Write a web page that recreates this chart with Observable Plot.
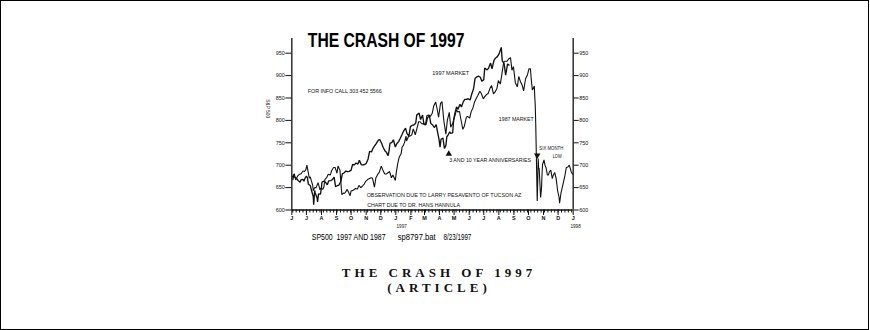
<!DOCTYPE html>
<html><head><meta charset="utf-8">
<script src="https://cdn.jsdelivr.net/npm/d3@7"></script>
<script src="https://cdn.jsdelivr.net/npm/@observablehq/plot@0.6"></script>
<style>
html,body{margin:0;padding:0;background:#fff;}
#page{position:relative;width:869px;height:330px;box-sizing:border-box;border:1px solid #000;overflow:hidden;}
#chart{position:absolute;left:-1px;top:-1px;}
#caption{position:absolute;left:-2px;top:264px;width:872px;padding-left:4px;text-align:center;font-family:"Liberation Serif","Times New Roman",serif;font-weight:bold;font-size:13px;line-height:15px;letter-spacing:4px;color:#111;}
</style></head><body>
<div id="page"><div id="chart"></div><div id="caption">THE CRASH OF 1997<br>(ARTICLE)</div></div>
<script>
// ---- data: S&P 500, 1996-97 ("1997 market") ----
const market1997 = [
["1996-06-03",667.7],["1996-06-05",677.6],["1996-06-07",673.3],["1996-06-11",670.0],["1996-06-14",665.9],
["1996-06-18",662.1],["1996-06-20",667.6],["1996-06-24",668.5],["1996-06-26",664.4],["1996-06-28",670.6],
["1996-07-01",675.9],["1996-07-03",672.4],["1996-07-05",657.4],["1996-07-09",654.8],["1996-07-11",645.7],
["1996-07-15",629.8],["1996-07-16",612.0],["1996-07-18",643.5],["1996-07-19",638.7],["1996-07-23",626.9],
["1996-07-24",618.0],["1996-07-26",635.9],["1996-07-30",635.3],["1996-08-01",650.0],["1996-08-02",662.5],
["1996-08-06",664.2],["1996-08-09",662.1],["1996-08-13",656.4],["1996-08-16",665.2],["1996-08-20",665.7],
["1996-08-23",667.0],["1996-08-27",673.3],["1996-08-30",652.0],["1996-09-03",654.7],["1996-09-06",655.7],
["1996-09-10",663.8],["1996-09-13",680.5],["1996-09-17",683.2],["1996-09-20",687.0],["1996-09-24",685.6],
["1996-09-27",686.2],["1996-10-01",689.1],["1996-10-04",701.5],["1996-10-08",700.6],["1996-10-11",705.0],
["1996-10-15",702.6],["1996-10-18",710.8],["1996-10-22",700.9],["1996-10-25",700.9],["1996-10-29",701.5],
["1996-11-01",703.8],["1996-11-05",714.1],["1996-11-08",730.8],["1996-11-12",729.6],["1996-11-15",737.6],
["1996-11-19",744.0],["1996-11-22",748.7],["1996-11-26",756.0],["1996-11-29",757.0],["1996-12-03",748.3],
["1996-12-06",739.6],["1996-12-10",731.5],["1996-12-13",728.6],["1996-12-16",721.0],["1996-12-18",731.5],
["1996-12-20",748.9],["1996-12-24",751.0],["1996-12-27",756.8],["1996-12-31",740.7],["1997-01-03",748.0],
["1997-01-07",753.2],["1997-01-10",759.5],["1997-01-14",768.9],["1997-01-17",776.2],["1997-01-21",782.7],
["1997-01-24",770.5],["1997-01-28",765.0],["1997-01-31",786.2],["1997-02-04",789.3],["1997-02-07",789.6],
["1997-02-11",794.0],["1997-02-13",811.8],["1997-02-18",816.3],["1997-02-21",801.8],["1997-02-25",812.1],
["1997-02-28",790.8],["1997-03-04",790.9],["1997-03-07",805.0],["1997-03-11",811.3],["1997-03-14",793.2],
["1997-03-18",789.7],["1997-03-21",784.1],["1997-03-25",790.5],["1997-03-31",757.1],["1997-04-02",740.0],
["1997-04-04",757.9],["1997-04-08",760.6],["1997-04-11",737.7],["1997-04-14",743.7],["1997-04-16",763.5],
["1997-04-18",766.3],["1997-04-22",774.6],["1997-04-24",771.2],["1997-04-28",772.0],["1997-04-30",801.3],
["1997-05-02",813.0],["1997-05-06",830.2],["1997-05-09",824.8],["1997-05-13",836.0],["1997-05-16",829.8],
["1997-05-20",841.9],["1997-05-23",847.0],["1997-05-27",847.2],["1997-05-30",848.3],["1997-06-03",845.5],
["1997-06-06",858.0],["1997-06-10",870.6],["1997-06-13",893.3],["1997-06-17",897.3],["1997-06-20",898.7],
["1997-06-24",896.3],["1997-06-27",887.3],["1997-07-01",891.0],["1997-07-03",916.9],["1997-07-08",912.6],
["1997-07-11",916.7],["1997-07-15",928.0],["1997-07-18",915.3],["1997-07-22",934.0],["1997-07-25",938.8],
["1997-07-29",942.3],["1997-08-01",947.1],["1997-08-06",963.0],["1997-08-08",933.5],["1997-08-12",926.5],
["1997-08-15",900.8],["1997-08-19",926.0],["1997-08-22",923.5]
];
// ---- data: S&P 500, 1986-87 rescaled, placed on the 1996-97 calendar ("1987 market") ----
const market1987 = [
["1996-06-02",674],["1996-06-06",681],["1996-06-09",667],["1996-06-13",676],["1996-06-16",679],
["1996-06-20",681],["1996-06-24",687],["1996-06-27",686],["1996-06-30",690],["1996-07-02",700],
["1996-07-07",671],["1996-07-09",674],["1996-07-11",666],["1996-07-14",655],["1996-07-15",643],
["1996-07-18",650],["1996-07-21",650],["1996-07-25",661],["1996-07-29",645],["1996-07-31",649],
["1996-08-04",646],["1996-08-06",652],["1996-08-08",668],["1996-08-12",673],["1996-08-15",680],
["1996-08-19",678],["1996-08-22",688],["1996-08-26",695],["1996-08-29",695],["1996-09-02",682],
["1996-09-04",698],["1996-09-08",689],["1996-09-11",647],["1996-09-12",634],["1996-09-15",638],
["1996-09-17",637],["1996-09-19",639],["1996-09-23",646],["1996-09-26",639],["1996-09-29",632],
["1996-10-01",643],["1996-10-03",643],["1996-10-07",645],["1996-10-10",648],["1996-10-14",647],
["1996-10-17",655],["1996-10-21",650],["1996-10-24",653],["1996-10-28",658],["1996-10-31",664],
["1996-11-04",668],["1996-11-07",670],["1996-11-11",672],["1996-11-14",671],["1996-11-18",651],
["1996-11-21",672],["1996-11-25",680],["1996-11-28",684],["1996-12-02",698],["1996-12-05",690],
["1996-12-09",681],["1996-12-12",680],["1996-12-16",683],["1996-12-19",686],["1996-12-23",672],
["1996-12-26",678],["1996-12-31",666],["1997-01-02",684],["1997-01-05",704],["1997-01-08",718],
["1997-01-12",726],["1997-01-14",741],["1997-01-16",743],["1997-01-19",751],["1997-01-22",765],
["1997-01-23",754],["1997-01-27",764],["1997-01-30",765],["1997-02-03",768],["1997-02-06",781],
["1997-02-10",768],["1997-02-13",780],["1997-02-17",797],["1997-02-20",797],["1997-02-24",792],
["1997-02-27",793],["1997-03-03",790],["1997-03-06",811],["1997-03-10",812],["1997-03-13",809],
["1997-03-17",816],["1997-03-20",832],["1997-03-24",841],["1997-03-27",826],["1997-03-30",807],
["1997-04-03",838],["1997-04-06",842],["1997-04-10",798],["1997-04-14",769],["1997-04-17",800],
["1997-04-21",818],["1997-04-24",785],["1997-04-28",793],["1997-05-01",804],["1997-05-06",824],
["1997-05-08",819],["1997-05-12",820],["1997-05-15",802],["1997-05-19",780],["1997-05-22",787],
["1997-05-26",807],["1997-05-29",809],["1997-06-02",805],["1997-06-05",819],["1997-06-09",829],
["1997-06-12",841],["1997-06-16",850],["1997-06-19",856],["1997-06-23",865],["1997-06-26",860],
["1997-06-30",848],["1997-07-03",853],["1997-07-07",858],["1997-07-10",860],["1997-07-14",872],
["1997-07-17",878],["1997-07-21",859],["1997-07-24",863],["1997-07-28",871],["1997-07-31",889],
["1997-08-04",881],["1997-08-07",901],["1997-08-11",930],["1997-08-14",932],["1997-08-18",932],
["1997-08-21",937],["1997-08-25",940],["1997-08-28",912],["1997-08-31",920],["1997-09-04",884],
["1997-09-08",875],["1997-09-11",898],["1997-09-15",885],["1997-09-18",879],["1997-09-21",866],
["1997-09-25",893],["1997-09-29",902],["1997-10-02",915],["1997-10-05",915],["1997-10-07",889],
["1997-10-09",868],["1997-10-13",877],["1997-10-14",852],["1997-10-15",832],["1997-10-16",789],
["1997-10-19",620],["1997-10-20",661],["1997-10-21",715],["1997-10-22",693],["1997-10-23",693],
["1997-10-26",628],["1997-10-28",651],["1997-10-29",683],["1997-10-30",702],["1997-11-02",712],
["1997-11-04",700],["1997-11-06",695],["1997-11-09",678],["1997-11-11",678],["1997-11-13",685],
["1997-11-16",689],["1997-11-19",670],["1997-11-20",675],["1997-11-24",684],["1997-11-27",670],
["1997-11-30",643],["1997-12-03",628],["1997-12-04",615],["1997-12-07",638],["1997-12-11",657],
["1997-12-15",677],["1997-12-18",695],["1997-12-21",696],["1997-12-24",700],["1997-12-28",685],
["1997-12-31",680]
];
// ---- axes ----
const yTicks = [600, 650, 700, 750, 800, 850, 900, 950];
const xStart = "1996-06-01", xEnd = "1998-01-01";
const monthLetters = ["J","F","M","A","M","J","J","A","S","O","N","D"];
// ---- annotations (anchored in data space) ----
const chartTitle = [{text: "THE CRASH OF 1997", date: "1996-07-04", value: 978}];
const notes = [
  {text: "FOR INFO CALL 303 452 5566", date: "1996-07-04", value: 865},
  {text: "1997 MARKET", date: "1997-03-17", value: 905},
  {text: "1987 MARKET", date: "1997-08-01", value: 803},
  {text: "3 AND 10 YEAR ANNIVERSARIES", date: "1997-04-21", value: 711},
  {text: "OBSERVATION DUE TO LARRY PESAVENTO OF TUCSON AZ", date: "1996-11-02", value: 633},
  {text: "CHART DUE TO DR. HANS HANNULA", date: "1996-11-03", value: 611}
];
const centeredNotes = [
  {text: "SIX MONTH", date: "1997-11-17", value: 738},
  {text: "LOW", date: "1997-11-29", value: 720}
];
const markersUp = [{date: "1997-04-20", value: 725}];
const markersDown = [{date: "1997-10-19", value: 722}];
const footer = [
  {text: "SP500  1997 AND 1987", date: "1996-07-12"},
  {text: "sp8797.bat", date: "1997-01-05"},
  {text: "8/23/1997", date: "1997-04-09"}
];
const yearLabels = [{text: "1997", date: "1997-01-13"}, {text: "1998", date: "1998-01-06"}];
const sideLabel = [{text: "S&P 500", value: 847}];

// ---- build ----
const P = d => new Date(d + "T00:00:00Z");
const s97 = market1997.map(([d, v]) => ({date: P(d), value: v}));
const s87 = market1987.map(([d, v]) => ({date: P(d), value: v}));
const toPts = a => a.map(o => ({...o, date: P(o.date)}));
const months = d3.utcMonth.range(P(xStart), d3.utcDay.offset(P(xEnd), 1));
const weeks = d3.utcMonday.range(P(xStart), P(xEnd));
const ink = "#111";
const sans = "'Liberation Sans', Arial, Helvetica, sans-serif";

const plot = Plot.plot({
  width: 870, height: 255,
  marginLeft: 292, marginRight: 296, marginTop: 38, marginBottom: 45,
  x: {type: "utc", domain: [P(xStart), P(xEnd)]},
  y: {domain: [600, 983]},
  style: {fontFamily: sans, color: ink, background: "transparent", overflow: "visible"},
  marks: [
    Plot.ruleX([P(xStart), P(xEnd)], {stroke: ink, strokeWidth: 1.3}),
    Plot.ruleY([600], {stroke: ink, strokeWidth: 1.3}),
    Plot.axisY(yTicks, {anchor: "left", tickSize: 6, tickPadding: 1, fontSize: 5.5, label: null, stroke: ink}),
    Plot.axisY(yTicks, {anchor: "right", tickSize: 5, tickPadding: 1, fontSize: 5.5, label: null, stroke: ink}),
    Plot.axisX(weeks, {tickSize: 3, tickFormat: () => "", label: null, stroke: ink}),
    Plot.axisX(months, {tickSize: 5.5, tickPadding: 1, fontSize: 5.5, fontWeight: "bold", label: null, stroke: ink,
      tickFormat: d => monthLetters[d.getUTCMonth()]}),
    Plot.line(s87, {x: "date", y: "value", stroke: ink, strokeWidth: 1.1, strokeLinejoin: "miter"}),
    Plot.line(s97, {x: "date", y: "value", stroke: ink, strokeWidth: 1.35, strokeLinejoin: "miter"}),
    Plot.dot(toPts(markersUp), {x: "date", y: "value", symbol: "triangle", r: 2.4, fill: ink, stroke: "none"}),
    Plot.dot(toPts(markersDown), {x: "date", y: "value", symbol: "triangle", rotate: 180, r: 2.4, fill: ink, stroke: "none"}),
    Plot.text(toPts(chartTitle), {x: "date", y: "value", text: "text", textAnchor: "start", fontSize: 19.5, fontWeight: "bold", fill: "#000"}),
    Plot.text(toPts(notes), {x: "date", y: "value", text: "text", textAnchor: "start", fontSize: 5.2, fill: ink}),
    Plot.text(toPts(centeredNotes), {x: "date", y: "value", text: "text", textAnchor: "middle", fontSize: 5.6, fill: ink}),
    Plot.text(toPts(footer), {x: "date", frameAnchor: "bottom", lineAnchor: "middle", dy: 27, text: "text", textAnchor: "start", fontSize: 8.5, fill: "#000"}),
    Plot.text(toPts(yearLabels), {x: "date", frameAnchor: "bottom", lineAnchor: "middle", dy: 17, text: "text", textAnchor: "middle", fontSize: 4.6, fill: ink}),
    Plot.text(sideLabel, {y: "value", frameAnchor: "left", dx: -24, text: "text", rotate: 90, fontSize: 4.8, fill: ink})
  ]
});

const widths = new Map([
  ["THE CRASH OF 1997", 157], ["FOR INFO CALL 303 452 5566", 74], ["1997 MARKET", 37], ["1987 MARKET", 35],
  ["3 AND 10 YEAR ANNIVERSARIES", 82], ["SIX MONTH", 24], ["LOW", 9],
  ["OBSERVATION DUE TO LARRY PESAVENTO OF TUCSON AZ", 155], ["CHART DUE TO DR. HANS HANNULA", 93],
  ["SP500  1997 AND 1987", 74], ["sp8797.bat", 38], ["8/23/1997", 28]
]);
d3.select(plot).selectAll("text").each(function() {
  const t = this.textContent;
  if (widths.has(t)) { this.setAttribute("textLength", widths.get(t)); this.setAttribute("lengthAdjust", "spacingAndGlyphs"); }
});
document.getElementById("chart").append(plot);
</script></body></html>
